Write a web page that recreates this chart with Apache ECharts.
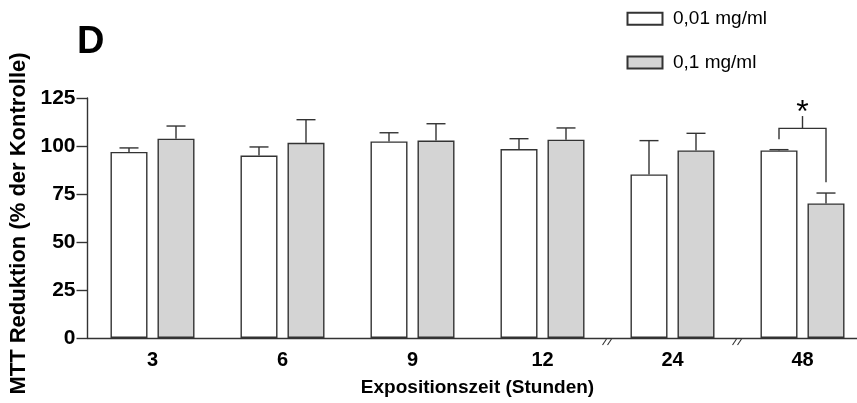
<!DOCTYPE html>
<html>
<head>
<meta charset="utf-8">
<script src="https://cdn.jsdelivr.net/npm/echarts@6/dist/echarts.min.js"></script>
<style>
html,body{margin:0;padding:0;background:#fff;}
#chart{width:857px;height:403px;}
</style>
</head>
<body>
<div id="chart"></div>
<script>
// ---- data ----
const categories = ['3', '6', '9', '12', '24', '48'];
const seriesNames = ['0,01 mg/ml', '0,1 mg/ml'];
const mean001 = [96.9, 95.0, 102.4, 98.4, 85.2, 97.7];
const errTop001 = [99.0, 99.5, 106.9, 103.8, 102.8, 98.1];
const mean01 = [103.8, 101.7, 102.8, 103.3, 97.7, 70.1];
const errTop01 = [110.4, 113.7, 111.6, 109.4, 106.6, 75.5];
const yTicks = [0, 25, 50, 75, 100, 125];
const breakAfterIndex = [3, 4];
const sigCategory = 5;
const bracketLevels = [103.5, 109.2, 81.1, 115.6]; // left leg end, bracket, right leg end, centre stem top
const starLevel = 121;

// ---- styles ----
const FONT = '"Liberation Sans", Arial, Helvetica, sans-serif';
const EDGE = '#333333';
const BAR_W = 37;
const BAR_GAP = 10;
const HALF = (BAR_W + BAR_GAP) / 2;
const CAP = 19;

const chart = echarts.init(document.getElementById('chart'), null, {renderer: 'canvas'});

function errItem(means, tops) {
  return means.map((m, i) => [i, m, tops[i]]);
}

function renderErr(sign) {
  return function (params, api) {
    const i = api.value(0);
    const lo = api.coord([i, api.value(1)]);
    const hi = api.coord([i, api.value(2)]);
    const x = lo[0] + sign * HALF;
    return {
      type: 'group',
      children: [
        {type: 'line', shape: {x1: x, y1: lo[1], x2: x, y2: hi[1]}, style: {stroke: EDGE, lineWidth: 1.4}},
        {type: 'line', shape: {x1: x - CAP / 2, y1: hi[1], x2: x + CAP / 2, y2: hi[1]}, style: {stroke: EDGE, lineWidth: 1.4}}
      ]
    };
  };
}

const option = {
  animation: false,
  backgroundColor: '#fff',
  textStyle: {fontFamily: FONT},
  grid: {left: 87.5, top: 98, height: 240, width: 780, containLabel: false, outerBoundsMode: 'none'},
  legend: {
    orient: 'vertical',
    left: 626.5,
    top: 9.3,
    padding: 0,
    itemGap: 24.7,
    itemWidth: 35,
    itemHeight: 12,
    icon: 'rect',
    data: seriesNames,
    textStyle: {fontFamily: FONT, fontSize: 19, color: '#000', padding: [0, 0, 0, 5.5]}
  },
  graphic: [
    {type: 'text', left: 77, top: 24, style: {text: 'D', font: 'bold 38px ' + FONT, fill: '#000'}}
  ],
  xAxis: {
    type: 'category',
    data: categories,
    boundaryGap: true,
    name: 'Expositionszeit (Stunden)',
    nameLocation: 'middle',
    nameGap: 40,
    nameTextStyle: {fontFamily: FONT, fontSize: 19, fontWeight: 'bold', color: '#000'},
    axisLine: {lineStyle: {color: EDGE, width: 1.4}},
    axisTick: {alignWithLabel: true, length: 7, lineStyle: {color: EDGE, width: 1.4}},
    axisLabel: {fontFamily: FONT, fontSize: 20, fontWeight: 'bold', color: '#000', margin: 12},
    splitLine: {show: false}
  },
  yAxis: {
    type: 'value',
    min: yTicks[0],
    max: yTicks[yTicks.length - 1],
    interval: yTicks[1] - yTicks[0],
    name: 'MTT Reduktion (% der Kontrolle)',
    nameLocation: 'middle',
    nameRotate: 90,
    nameGap: 53,
    nameTextStyle: {fontFamily: FONT, fontSize: 22, fontWeight: 'bold', color: '#000', padding: [0, 11, 0, 0]},
    axisLine: {show: true, lineStyle: {color: EDGE, width: 1.4}},
    axisTick: {show: true, length: 11, lineStyle: {color: EDGE, width: 1.4}},
    axisLabel: {fontFamily: FONT, fontSize: 21, fontWeight: 'bold', color: '#000', margin: 12},
    splitLine: {show: false}
  },
  series: [
    {
      name: seriesNames[0], type: 'bar', data: mean001,
      barWidth: BAR_W, barGap: (BAR_GAP / BAR_W * 100) + '%',
      itemStyle: {color: '#ffffff', borderColor: EDGE, borderWidth: 1.4}
    },
    {
      name: seriesNames[1], type: 'bar', data: mean01,
      barWidth: BAR_W, barGap: (BAR_GAP / BAR_W * 100) + '%',
      itemStyle: {color: '#d4d4d4', borderColor: EDGE, borderWidth: 1.4}
    },
    {
      type: 'custom', z: 3, silent: true,
      data: errItem(mean001, errTop001),
      encode: {x: 0, y: [1, 2]},
      renderItem: renderErr(-1)
    },
    {
      type: 'custom', z: 3, silent: true,
      data: errItem(mean01, errTop01),
      encode: {x: 0, y: [1, 2]},
      renderItem: renderErr(1)
    },
    {
      // significance bracket and asterisk
      type: 'custom', z: 4, silent: true, clip: false,
      data: [[sigCategory, bracketLevels[0], bracketLevels[1], bracketLevels[2], bracketLevels[3], starLevel]],
      encode: {x: 0, y: [1, 2, 3, 4, 5]},
      renderItem: function (params, api) {
        const i = api.value(0);
        const c = api.coord([i, api.value(2)]);
        const xl = c[0] - HALF, xr = c[0] + HALF, yb = c[1];
        const yl = api.coord([i, api.value(1)])[1];
        const yr = api.coord([i, api.value(3)])[1];
        const yt = api.coord([i, api.value(4)])[1];
        const ys = api.coord([i, api.value(5)])[1];
        return {
          type: 'group',
          children: [
            {type: 'polyline', shape: {points: [[xl, yl], [xl, yb], [xr, yb], [xr, yr]]}, style: {stroke: EDGE, lineWidth: 1.4, fill: null}},
            {type: 'line', shape: {x1: c[0], y1: yb, x2: c[0], y2: yt}, style: {stroke: EDGE, lineWidth: 1.4}},
            {type: 'text', x: c[0], y: ys + 7, style: {text: '*', font: '32px ' + FONT, fill: '#000', textAlign: 'center', textVerticalAlign: 'middle'}}
          ]
        };
      }
    },
    {
      // axis break marks "//" between categories
      type: 'custom', z: 4, silent: true, clip: false,
      data: breakAfterIndex.map(i => [i, 0]),
      encode: {x: 0, y: 1},
      renderItem: function (params, api) {
        const i = api.value(0);
        const p = api.coord([i, 0]);
        const band = api.size([1, 0])[0];
        const x = p[0] + band / 2;
        const y = p[1];
        const mk = (dx) => ({type: 'line', shape: {x1: x + dx - 2.5, y1: y + 7, x2: x + dx + 1.5, y2: y + 1}, style: {stroke: EDGE, lineWidth: 1.1}});
        return {type: 'group', children: [mk(-2.5), mk(2.5)]};
      }
    }
  ]
};
chart.setOption(option);
</script>
</body>
</html>
